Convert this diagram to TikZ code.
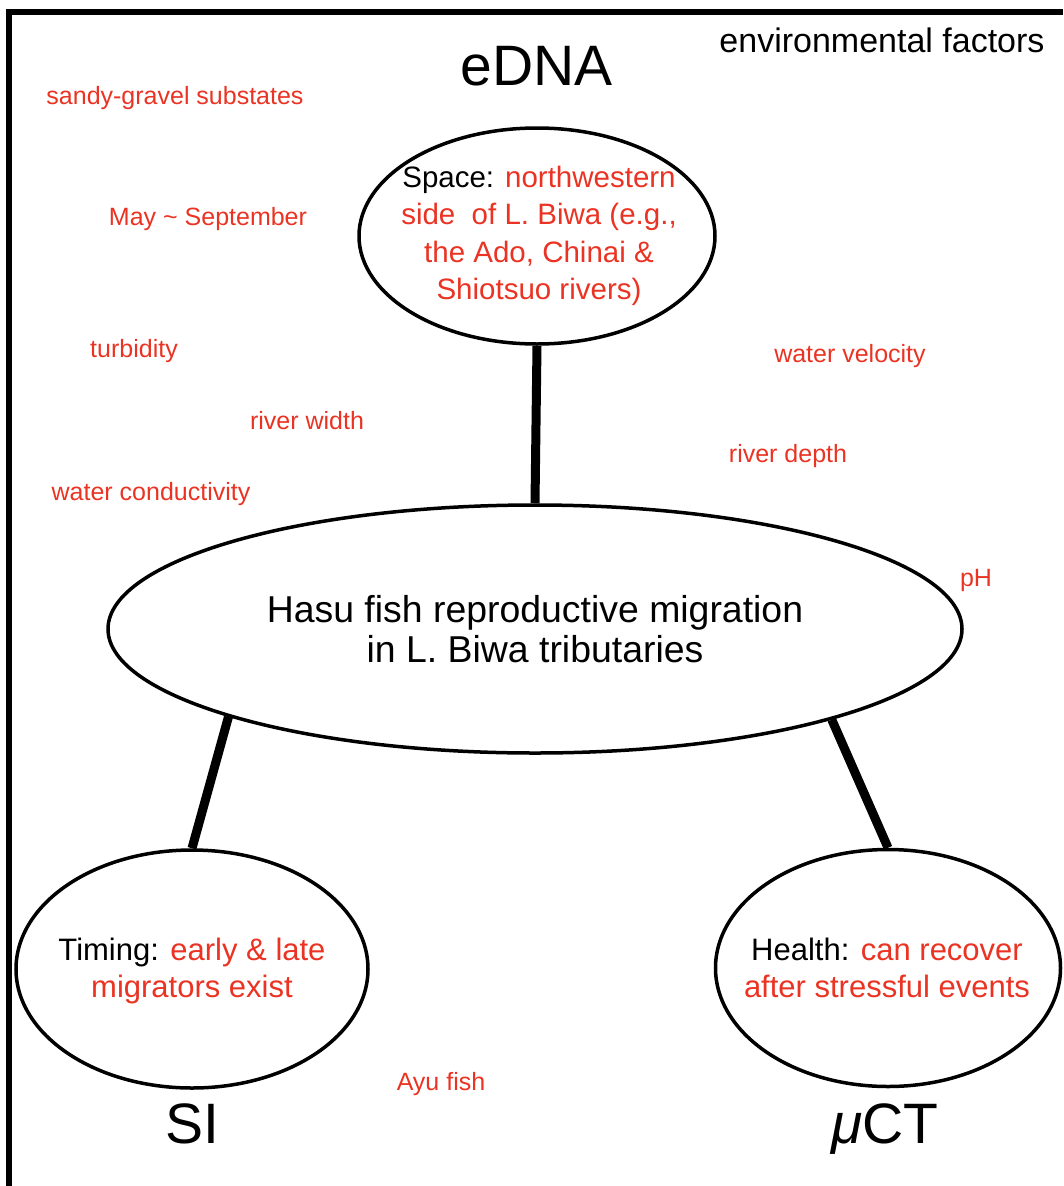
\documentclass[tikz,border=0pt]{standalone}
\usepackage{fontspec}
\setmainfont{Liberation Sans}
\usepackage{tikz}
\usetikzlibrary{shapes,positioning}
\definecolor{factorred}{RGB}{234,51,35}
\tikzset{
    bubble/.style={draw, ellipse, line width=3.5pt, inner sep=0pt},
    topic/.style={align=center, inner sep=0pt, text=factorred,
                  font=\fontsize{31}{37.5}\selectfont},
    topicMain/.style={align=center, inner sep=0pt, font=\fontsize{37.4}{40}\selectfont},
    link/.style={line width=9pt},
    frame/.style={line width=6pt},
    factor/.style={text=factorred, font=\fontsize{25}{30}\selectfont,
                   text height=0.75em, text depth=0.2em, inner sep=0pt},
    method/.style={font=\fontsize{57}{60}\selectfont, anchor=base, inner sep=0pt},
}

\begin{document}
\begin{tikzpicture}[x=1pt, y=-1pt]
    \useasboundingbox (0,0) rectangle (1063,1186);
    % Frame
    \draw[frame] (9,1186) |- (1063,12);

    % Topics
    \node[bubble, minimum width=356pt, minimum height=216pt] (space) at (537,236) {};
    \node[topic, font=\fontsize{29.5}{37.5}\selectfont] (spaceText) at (539,236)
        {\textcolor{black}{Space:} northwestern\\side\ \ of L. Biwa (e.g.,\\the Ado, Chinai \&\\Shiotsuo rivers)};
    \node[bubble, minimum width=854pt, minimum height=248pt] (migration) at (535,629) {};
    \node[topicMain] (migrationText) at (migration)
        {Hasu fish reproductive migration\\in L. Biwa tributaries};
    \node[bubble, minimum width=352pt, minimum height=238pt] (timing) at (192,969) {};
    \node[topic] (timingText) at (192,971)
        {\textcolor{black}{Timing:} early \& late\\migrators exist};
    \node[bubble, minimum width=345pt, minimum height=237pt] (health) at (888,968) {};
    \node[topic] (healthText) at (887,968)
        {\textcolor{black}{Health:} can recover\\after stressful events};

    % Links
    \draw[link] (space.south) -- (migration.north);
    \draw[link] (migration.196.5) -- (timing.north);
    \draw[link] (migration.-17) -- (health.north);

    % Methods
    \node[method] (eDNA) at (537,85) {eDNA};
    \node[method] (SI) at (192,1143) {SI};
    \node[method] (muCT) at (885,1143) {\textit{μ}CT};

    % Environmental factors
    \node[factor, text=black, font=\fontsize{34}{36}\selectfont] (envf) at (882,50) {environmental factors};
    \node[factor] (substrate) at (175,102) {sandy-gravel substates};
    \node[factor] (season) at (208,223) {May \textasciitilde{} September};
    \node[factor] (turbidity) at (134,355) {turbidity};
    \node[factor] (width) at (307,427) {river width};
    \node[factor] (conduct) at (151,498) {water conductivity};
    \node[factor] (velocity) at (850,360) {water velocity};
    \node[factor] (depth) at (788,460) {river depth};
    \node[factor] (pH) at (976,584) {pH};
    \node[factor] (ayu) at (441,1088) {Ayu fish};
\end{tikzpicture}
\end{document}
